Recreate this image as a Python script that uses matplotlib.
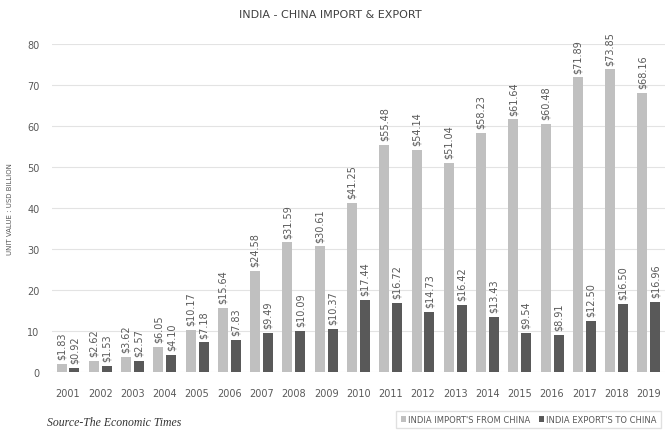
import matplotlib.pyplot as plt
import numpy as np

years = [str(y) for y in range(2001, 2020)]
imports = [1.83, 2.62, 3.62, 6.05, 10.17, 15.64, 24.58, 31.59, 30.61, 41.25,
           55.48, 54.14, 51.04, 58.23, 61.64, 60.48, 71.89, 73.85, 68.16]
exports = [0.92, 1.53, 2.57, 4.10, 7.18, 7.83, 9.49, 10.09, 10.37, 17.44,
           16.72, 14.73, 16.42, 13.43, 9.54, 8.91, 12.50, 16.50, 16.96]

IMP_COLOR = '#c0c0c0'
EXP_COLOR = '#595959'
TEXT_COLOR = '#595959'

fig = plt.figure(figsize=(6.65, 4.31), dpi=100)
ax = fig.add_axes([0.078, 0.135, 0.922, 0.76])

x = np.arange(len(years))
w = 0.31
b1 = ax.bar(x - 0.2, imports, width=w, color=IMP_COLOR, label="INDIA IMPORT'S FROM CHINA", zorder=2)
b2 = ax.bar(x + 0.2, exports, width=w, color=EXP_COLOR, label="INDIA EXPORT'S TO CHINA", zorder=2)

# rotated value labels above each bar
for rects, vals in ((b1, imports), (b2, exports)):
    for r, v in zip(rects, vals):
        ax.text(r.get_x() + r.get_width() / 2, v + 1.2, f"${v:.2f}",
                rotation=90, ha='center', va='bottom', fontsize=7,
                color=TEXT_COLOR, clip_on=False)

ax.set_xlim(-0.5, len(years) - 0.5)
ax.set_ylim(0, 80)
ax.set_yticks(range(0, 81, 10))
ax.set_xticks(x)
ax.set_xticklabels(years)
ax.tick_params(axis='both', length=0, labelsize=7, colors=TEXT_COLOR)
ax.tick_params(axis='y', pad=9)
ax.tick_params(axis='x', pad=12)
ax.grid(axis='y', color='#e3e3e3', linewidth=0.8, zorder=0)
for s in ax.spines.values():
    s.set_visible(False)

ax.set_ylabel('UNIT VALUE : USD BILLION', fontsize=5, color=TEXT_COLOR, labelpad=10)

fig.text(0.497, 0.965, 'INDIA - CHINA IMPORT & EXPORT', ha='center', va='center',
         fontsize=8, color='#404040')

leg = fig.legend(loc='lower right', bbox_to_anchor=(1.0, -0.005), ncol=2, fontsize=6,
                 frameon=True, fancybox=False, edgecolor='#d9d9d9',
                 handlelength=0.6, handleheight=0.6, handletextpad=0.3,
                 columnspacing=1.0, borderpad=0.5, labelcolor=TEXT_COLOR)

fig.text(0.07, 0.004, 'Source-The Economic Times', fontsize=8.5, style='italic',
         family='Liberation Serif', color='#333333', ha='left', va='bottom')

plt.savefig('out.png', dpi=100)
